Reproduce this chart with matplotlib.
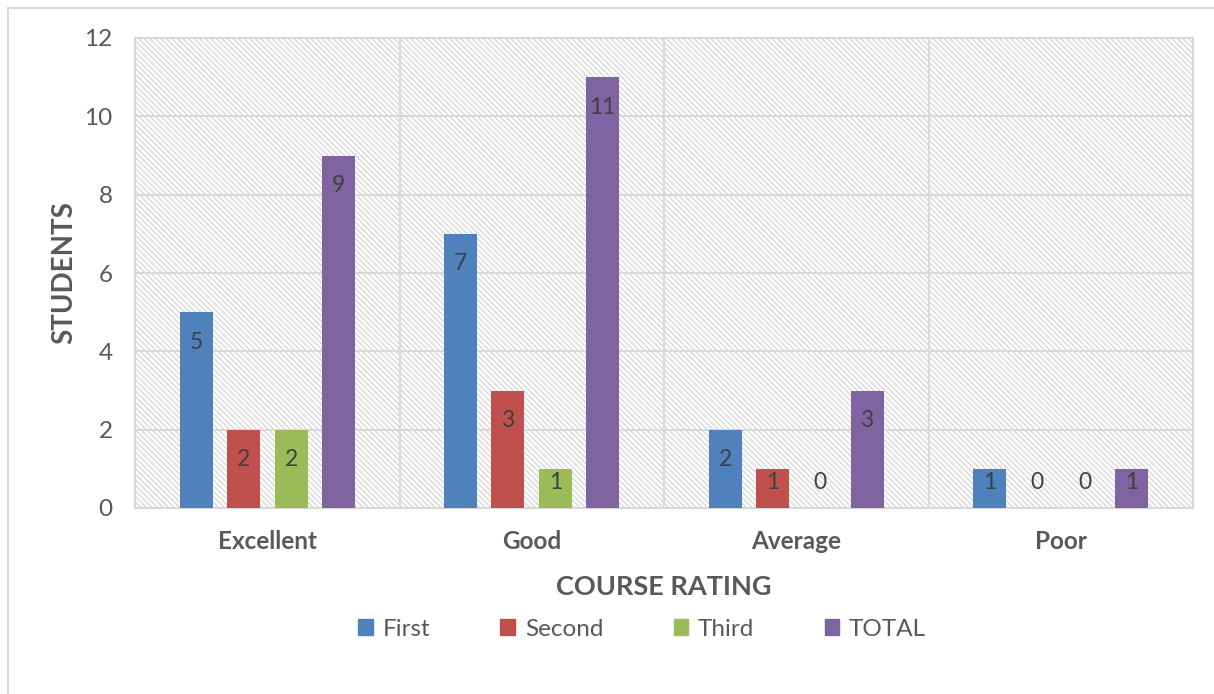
import numpy as np
import matplotlib
matplotlib.use('Agg')
import matplotlib.pyplot as plt
from matplotlib.lines import Line2D

# data
categories = ['Excellent', 'Good', 'Average', 'Poor']
series = ['First', 'Second', 'Third', 'TOTAL']
first = [5, 7, 2, 1]
second = [2, 3, 1, 0]
third = [2, 1, 0, 0]
total = [9, 11, 3, 1]
values = [first, second, third, total]
colors = ['#4f81bd', '#c0504d', '#9bbb59', '#8064a2']

plt.rcParams['font.family'] = ['Lato', 'DejaVu Sans']
plt.rcParams['hatch.color'] = '#d0d0d0'
plt.rcParams['hatch.linewidth'] = 0.8
txt = '#595959'

fig = plt.figure(figsize=(12.14, 6.94), dpi=100)
ax = fig.add_axes([135/1214, 1-508/694, (1193-135)/1214, (508-38)/694])

# hatched plot area background
ax.patch.set_facecolor('white')
ax.patch.set_hatch('\\\\\\\\\\\\')
ax.patch.set_edgecolor('#d0d0d0')

x = np.arange(len(categories))
offsets = [-0.268, -0.09, 0.09, 0.268]
width = 0.125
for vals, off, col, name in zip(values, offsets, colors, series):
    ax.bar(x + off, vals, width, color=col, label=name, zorder=3)
    for xi, v in zip(x + off, vals):
        ax.text(xi, max(v - 0.77, 0.66), str(v), ha='center', va='center',
                fontsize=16.5, color='#404040', zorder=4)

ax.set_xlim(-0.5, 3.5)
ax.set_ylim(0, 12)
ax.set_yticks(range(0, 13, 2))
ax.set_xticks(x)
ax.set_xticklabels(categories, fontsize=17.5, fontweight='bold', color=txt)
ax.set_xticks([0.5, 1.5, 2.5], minor=True)
ax.tick_params(axis='y', labelsize=17.5, colors=txt, length=0, pad=16)
ax.tick_params(axis='x', which='both', length=0, pad=16)
ax.grid(axis='y', color='#d9d9d9', linewidth=1.5, zorder=1)
ax.grid(axis='x', which='minor', color='#d9d9d9', linewidth=1.5, zorder=1)
for s in ax.spines.values():
    s.set_color('#d9d9d9')
    s.set_linewidth(1.5)

ax.set_xlabel('COURSE RATING', fontsize=19.5, fontweight='bold', color=txt, labelpad=16)
ax.set_ylabel('STUDENTS', fontsize=20, fontweight='bold', color=txt, labelpad=5)

handles = [plt.Rectangle((0, 0), 1, 1, color=c) for c in colors]
fig.legend(handles, series, loc='center', bbox_to_anchor=(642/1214, 1-629/694),
           ncol=4, frameon=False, fontsize=17.5, labelcolor=txt,
           handlelength=0.6, handleheight=0.6, handletextpad=0.4,
           columnspacing=2.9)

# outer chart border (top and left visible)
fig.add_artist(Line2D([8/1214, 1], [1-8/694, 1-8/694], color='#d9d9d9', lw=1.5))
fig.add_artist(Line2D([8/1214, 8/1214], [0, 1-8/694], color='#d9d9d9', lw=1.5))

fig.savefig('out.png', dpi=100)
